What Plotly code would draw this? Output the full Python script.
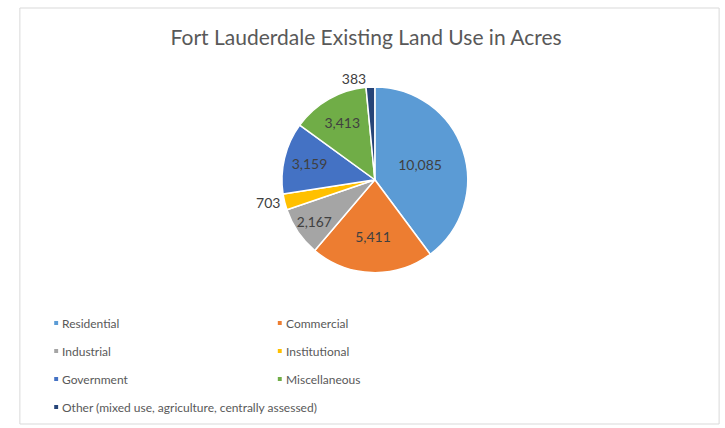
import plotly.graph_objects as go

labels = ["Residential", "Commercial", "Industrial", "Institutional",
          "Government", "Miscellaneous",
          "Other (mixed use, agriculture, centrally assessed)"]
values = [10085, 5411, 2167, 703, 3159, 3413, 383]
colors = ["#5B9BD5", "#ED7D31", "#A5A5A5", "#FFC000", "#4472C4", "#70AD47", "#264478"]
text_pos = ["inside", "inside", "inside", "outside", "inside", "inside", "outside"]

W, H = 725, 428
fig = go.Figure()
fig.add_trace(go.Pie(
    labels=labels, values=values, sort=False, direction="clockwise", rotation=0,
    marker=dict(colors=colors, line=dict(color="white", width=1.5)),
    texttemplate="%{value:,}", textposition=text_pos,
    insidetextorientation="horizontal",
    textfont=dict(family="Lato", size=14, color="#404040"),
    domain=dict(x=[0.2, 0.815], y=[0.363, 0.797]),
    showlegend=False, hoverinfo="label+value",
))

# legend (two columns) built from the data lists
col_x = [43, 271]
row_y = [323, 351, 379, 407]
for i, (lab, col) in enumerate(zip(labels, colors)):
    cx = col_x[i % 2]
    cy = row_y[i // 2]
    fig.add_shape(type="rect", xref="paper", yref="paper",
                  x0=(cx - 2) / W, x1=(cx + 2) / W,
                  y0=1 - (cy + 2) / H, y1=1 - (cy - 2) / H,
                  line=dict(width=0), fillcolor=col)
    fig.add_annotation(
        x=(cx + 5) / W, y=1 - cy / H, xref="paper", yref="paper",
        xanchor="left", yanchor="middle", showarrow=False,
        text=lab, borderpad=0,
        font=dict(family="Lato", size=12, color="#595959"),
    )

fig.add_shape(type="rect", xref="paper", yref="paper",
              x0=6 / W, x1=719 / W, y0=1 - 424 / H, y1=1 - 8 / H,
              line=dict(color="#D9D9D9", width=1), fillcolor="rgba(0,0,0,0)")

fig.update_layout(
    width=W, height=H, margin=dict(l=0, r=0, t=0, b=0),
    paper_bgcolor="white", plot_bgcolor="white",
    title=dict(text="Fort Lauderdale Existing Land Use in Acres",
               x=0.505, xanchor="center", y=1 - 38 / H, yanchor="middle",
               font=dict(family="Lato", size=21, color="#595959")),
)
fig.write_html("out.html")
